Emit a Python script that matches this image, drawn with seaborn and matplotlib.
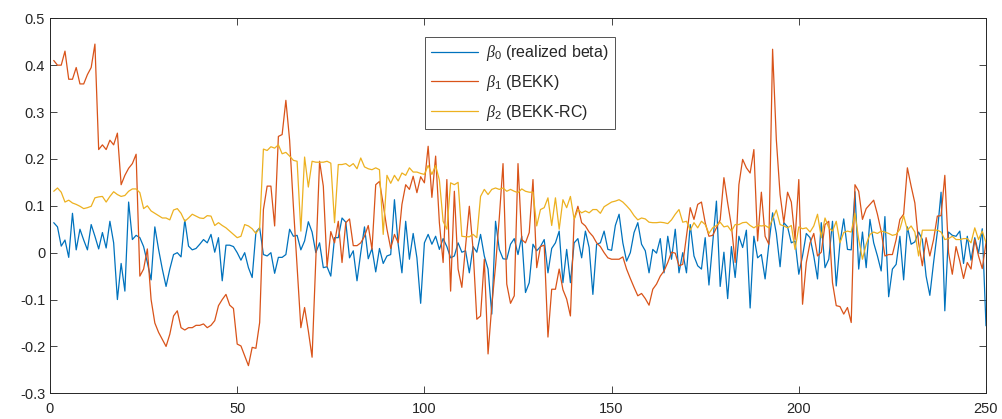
import numpy as np
import pandas as pd
import matplotlib
matplotlib.use("Agg")
import matplotlib.pyplot as plt
import seaborn as sns
from matplotlib.ticker import FuncFormatter

# ---------------- data ----------------
t = list(range(1, 251))

beta0 = [
    0.064, 0.055, 0.014, 0.027, -0.01, 0.084, 0.006, 0.05, 0.027, 0.006, 0.06, 0.035, 0.008, 0.043, 0.01, 0.067, 0.021, -0.1, -0.023, -0.082, 0.108, 0.028, 0.037, 0.032, 0.013,
    -0.021, -0.058, 0.055, 0.007, -0.035, -0.072, -0.035, -0.004, 0.0, -0.009, 0.07, 0.014, 0.006, 0.009, 0.018, 0.028, 0.021, 0.039, 0.001, 0.032, -0.06, 0.016, 0.016, 0.013, 0.0,
    -0.016, 0.0, -0.032, -0.053, 0.044, 0.053, -0.004, -0.007, 0.0, -0.044, -0.01, -0.01, -0.004, 0.05, 0.035, 0.037, 0.006, 0.025, 0.066, 0.044, 0.0, 0.021, -0.032, -0.03, -0.05,
    0.032, 0.032, 0.074, 0.065, -0.011, 0.004, -0.06, 0.0, 0.055, -0.013, 0.009, -0.041, 0.009, -0.023, -0.007, -0.004, 0.113, 0.018, -0.043, 0.067, -0.014, 0.041, -0.011, -0.108, 0.021,
    0.039, 0.018, 0.035, 0.007, 0.03, 0.013, -0.011, -0.007, 0.021, 0.001, 0.004, -0.043, 0.013, 0.001, 0.039, -0.007, -0.035, -0.131, 0.067, 0.007, -0.013, -0.014, 0.018, 0.03, -0.004,
    0.035, -0.085, -0.064, 0.018, 0.004, 0.013, 0.028, -0.043, 0.009, 0.021, 0.046, -0.064, 0.007, -0.064, 0.021, 0.03, -0.011, 0.046, 0.011, -0.089, 0.018, 0.021, 0.046, 0.007, 0.005,
    0.058, 0.082, 0.021, -0.018, 0.0, 0.043, 0.064, 0.018, 0.004, -0.043, 0.007, -0.001, 0.03, -0.043, 0.035, -0.014, 0.05, -0.043, 0.0, -0.043, 0.06, -0.007, -0.028, -0.035, 0.032,
    -0.069, 0.021, 0.11, -0.072, 0.001, -0.098, 0.013, -0.053, 0.035, 0.011, 0.048, -0.118, 0.035, -0.011, -0.004, -0.056, 0.018, 0.085, 0.041, -0.03, 0.064, 0.055, 0.021, 0.025, -0.046,
    -0.007, 0.041, 0.032, -0.007, -0.056, 0.064, -0.032, -0.014, 0.067, -0.071, 0.021, 0.072, 0.007, 0.006, 0.13, -0.035, 0.044, -0.032, 0.071, 0.021, -0.007, -0.039, 0.077, -0.094, -0.035,
    -0.025, 0.035, -0.058, 0.055, 0.018, 0.023, 0.044, 0.028, -0.05, -0.091, -0.021, 0.044, 0.129, -0.124, 0.044, 0.037, 0.035, 0.046, -0.023, 0.035, -0.016, 0.032, -0.001, 0.051, -0.156,
]

beta1 = [
    0.41, 0.40, 0.40, 0.43, 0.37, 0.37, 0.395, 0.36, 0.36, 0.38, 0.395, 0.445, 0.22, 0.23, 0.22, 0.24, 0.23, 0.255, 0.145, 0.165, 0.18, 0.19, 0.21, -0.05, -0.035,
    0.008, -0.1, -0.15, -0.17, -0.185, -0.2, -0.174, -0.135, -0.124, -0.16, -0.165, -0.16, -0.16, -0.155, -0.155, -0.152, -0.16, -0.155, -0.145, -0.113, -0.1, -0.089, -0.112, -0.119, -0.195,
    -0.199, -0.22, -0.241, -0.202, -0.204, -0.149, 0.092, 0.142, 0.142, 0.057, 0.248, 0.252, 0.325, 0.24, 0.1, -0.03, -0.16, -0.117, -0.167, -0.223, -0.014, 0.195, 0.142, -0.03, 0.045,
    0.021, 0.067, -0.021, 0.064, 0.072, 0.015, 0.015, 0.021, 0.035, 0.058, 0.007, 0.145, 0.152, 0.103, 0.05, 0.009, 0.039, 0.021, 0.103, 0.145, 0.135, 0.163, 0.128, 0.162, 0.149,
    0.227, 0.118, 0.206, 0.064, -0.021, 0.156, -0.082, 0.131, -0.035, -0.074, 0.014, 0.099, 0.007, -0.142, -0.135, -0.014, -0.216, -0.113, -0.028, 0.074, 0.19, -0.067, -0.108, -0.092, 0.19,
    0.028, 0.021, 0.043, 0.156, -0.032, 0.013, 0.016, -0.18, -0.078, -0.078, -0.035, -0.079, -0.099, -0.135, 0.072, 0.099, 0.064, 0.057, 0.044, 0.035, 0.021, 0.013, 0.0, -0.011, -0.014,
    -0.014, -0.014, -0.009, -0.035, -0.055, -0.074, -0.092, -0.087, -0.098, -0.112, -0.078, -0.067, -0.05, -0.039, -0.021, 0.001, -0.001, -0.028, -0.025, 0.035, 0.096, 0.071, 0.103, 0.108, 0.064,
    0.035, 0.037, 0.053, 0.07, 0.16, 0.106, 0.057, -0.021, 0.145, 0.199, 0.181, 0.17, 0.22, 0.025, 0.129, 0.035, 0.018, 0.434, 0.241, 0.124, 0.064, 0.129, 0.108, 0.028, 0.156,
    -0.11, -0.021, 0.021, 0.041, -0.007, 0.001, 0.06, 0.067, -0.064, -0.113, -0.115, -0.131, -0.117, -0.149, 0.145, 0.131, 0.071, 0.094, 0.103, 0.112, 0.082, 0.046, -0.007, -0.004, -0.004,
    0.028, 0.071, 0.082, 0.181, 0.142, 0.106, 0.021, -0.028, 0.032, -0.007, 0.028, 0.078, 0.079, 0.165, 0.0, -0.046, 0.013, -0.018, -0.055, -0.021, -0.035, 0.028, -0.007, -0.034, 0.021,
]

beta2 = [
    0.131, 0.138, 0.129, 0.108, 0.112, 0.106, 0.103, 0.099, 0.094, 0.096, 0.099, 0.117, 0.119, 0.12, 0.108, 0.12, 0.13, 0.124, 0.12, 0.122, 0.131, 0.136, 0.136, 0.128, 0.094,
    0.1, 0.089, 0.084, 0.079, 0.074, 0.074, 0.07, 0.091, 0.094, 0.084, 0.067, 0.074, 0.082, 0.078, 0.074, 0.073, 0.079, 0.078, 0.058, 0.064, 0.058, 0.053, 0.046, 0.039, 0.032,
    0.035, 0.06, 0.057, 0.051, 0.041, 0.053, 0.221, 0.218, 0.226, 0.223, 0.23, 0.211, 0.214, 0.206, 0.197, 0.195, 0.046, 0.204, 0.14, 0.195, 0.193, 0.193, 0.193, 0.195, 0.191,
    0.064, 0.188, 0.188, 0.19, 0.184, 0.19, 0.179, 0.202, 0.183, 0.179, 0.177, 0.181, 0.177, 0.039, 0.165, 0.148, 0.165, 0.153, 0.17, 0.165, 0.181, 0.172, 0.172, 0.169, 0.167,
    0.186, 0.167, 0.186, 0.155, 0.067, 0.05, 0.149, 0.145, 0.15, 0.035, 0.034, 0.034, 0.039, 0.032, 0.12, 0.135, 0.124, 0.135, 0.138, 0.135, 0.138, 0.131, 0.135, 0.131, 0.128,
    0.136, 0.131, 0.129, 0.129, 0.057, 0.092, 0.096, 0.117, 0.058, 0.117, 0.05, 0.113, 0.096, 0.12, 0.071, 0.092, 0.085, 0.089, 0.085, 0.092, 0.092, 0.084, 0.098, 0.103, 0.108,
    0.11, 0.113, 0.108, 0.1, 0.091, 0.079, 0.07, 0.074, 0.072, 0.065, 0.064, 0.064, 0.065, 0.064, 0.062, 0.07, 0.082, 0.092, 0.065, 0.067, 0.048, 0.064, 0.053, 0.067, 0.06,
    0.041, 0.053, 0.058, 0.065, 0.055, 0.057, 0.046, 0.06, 0.06, 0.064, 0.065, 0.058, 0.053, 0.058, 0.057, 0.058, 0.053, 0.072, 0.091, 0.06, 0.057, 0.053, 0.058, 0.007, 0.055,
    0.051, 0.053, 0.044, 0.057, 0.082, 0.032, 0.074, 0.053, 0.046, 0.067, 0.021, 0.043, 0.046, 0.044, 0.084, 0.028, -0.014, 0.018, 0.039, 0.044, 0.041, 0.046, 0.044, 0.041, 0.037,
    0.039, 0.05, 0.079, 0.048, 0.057, 0.044, -0.007, 0.048, 0.048, 0.048, 0.048, 0.048, 0.044, 0.028, 0.03, 0.035, 0.028, 0.028, 0.03, 0.03, 0.021, 0.053, 0.028, 0.046, 0.021,
]

labels = [r"$\beta_{0}$ (realized beta)", r"$\beta_{1}$ (BEKK)", r"$\beta_{2}$ (BEKK-RC)"]
colors = ["#0072BD", "#D95319", "#EDB120"]

x_ticks = [0, 50, 100, 150, 200, 250]
y_ticks = [-0.3, -0.2, -0.1, 0, 0.1, 0.2, 0.3, 0.4, 0.5]

# ---------------- style ----------------
sns.set_style("ticks")
plt.rcParams["font.family"] = ["Liberation Sans", "DejaVu Sans"]
plt.rcParams["mathtext.fontset"] = "custom"
plt.rcParams["mathtext.it"] = "Liberation Serif:italic"
plt.rcParams["mathtext.rm"] = "Liberation Sans"
plt.rcParams["axes.unicode_minus"] = False

df = pd.concat(
    [pd.DataFrame({"t": t, "value": s, "series": lab}) for s, lab in zip([beta0, beta1, beta2], labels)],
    ignore_index=True,
)

fig = plt.figure(figsize=(10.03, 4.19), dpi=100)
ax = fig.add_axes([50 / 1003, 1 - 393.3 / 419, 936 / 1003, 375 / 419])

sns.lineplot(data=df, x="t", y="value", hue="series", palette=colors,
             hue_order=labels, linewidth=0.9, ax=ax, legend=True)

ax.set_xlim(0, 250)
ax.set_ylim(-0.3, 0.5)
ax.set_xticks(x_ticks)
ax.set_yticks(y_ticks)
ax.yaxis.set_major_formatter(FuncFormatter(lambda v, p: "%g" % round(v, 2)))
ax.set_xlabel("")
ax.set_ylabel("")
ax.tick_params(direction="in", length=5, width=0.6, colors="#262626",
               labelsize=10.5, top=True, right=True, labelcolor="#262626")
ax.tick_params(axis="x", pad=6)
for sp in ax.spines.values():
    sp.set_visible(True)
    sp.set_linewidth(0.7)
    sp.set_color("#262626")

leg = ax.legend(loc="upper left", bbox_to_anchor=(0.4006, 0.950), borderaxespad=0,
                frameon=True, fancybox=False, fontsize=11.5, handlelength=2.9,
                handletextpad=0.5, labelspacing=0.6, borderpad=0.4)
leg.get_frame().set_edgecolor("#262626")
leg.get_frame().set_linewidth(0.7)
for line in leg.get_lines():
    line.set_linewidth(0.9)

fig.savefig("out.png", dpi=100)
